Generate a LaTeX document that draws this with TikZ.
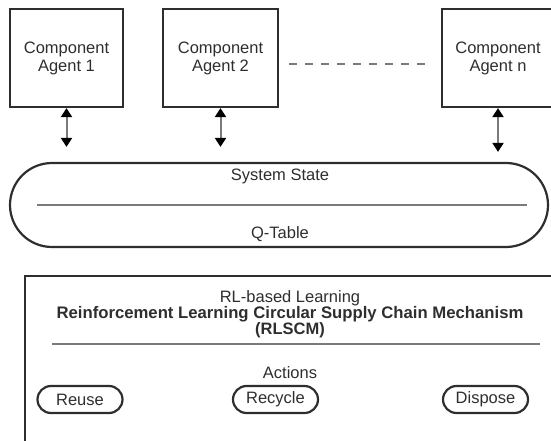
\documentclass[tikz,border=0pt]{standalone}
\usepackage{fontspec}
\setmainfont{Liberation Sans}
\usetikzlibrary{shapes,arrows.meta}

\definecolor{ink}{HTML}{2E2E2E}
\definecolor{rule}{HTML}{7A7A7A}

\begin{document}
\begin{tikzpicture}[x=1pt, y=-1pt, font=\fontsize{16.5}{18}\selectfont, text=ink]
\tikzstyle{agentbox}=[rectangle, draw=ink, line width=2.2pt, minimum height=98pt, inner sep=0pt, align=center]
\tikzstyle{action}=[rectangle, draw=ink, line width=2.2pt, rounded corners=13.5pt, minimum width=85pt, minimum height=27pt, inner sep=0pt]
\tikzstyle{link}=[draw=rule, line width=2pt, >={Triangle[color=black, width=11pt, length=9pt]}, <->]
\tikzstyle{dashline}=[draw=rule, line width=1.6pt, dash pattern=on 8pt off 8pt]
\tikzstyle{divider}=[draw=rule, line width=1.6pt]

\clip (0,0) rectangle (551,441);

% agents
\node[agentbox, minimum width=113pt] (agent1) at (66.5,58) {Component\\Agent 1};
\node[agentbox, minimum width=115pt] (agent2) at (220.5,58) {Component\\Agent 2};
\node[agentbox, minimum width=112pt] (agentn) at (498,58) {Component\\Agent n};
\draw[dashline, shorten <=10pt, shorten >=14pt] ([yshift=-6pt]agent2.east) -- ([yshift=-6pt]agentn.west);

% shared state
\node[draw=ink, line width=2.2pt, rounded corners=42pt, minimum width=538pt, minimum height=84pt] (state) at (279,205) {};
\node (sysstate) at (280,176) {System State};
\node (qtable) at (280,234) {Q-Table};
\draw[divider] ([xshift=28pt]state.west) -- ([xshift=-22pt]state.east);

\draw[link, shorten >=15pt] (agent1.south) -- (agent1.south |- state.north);
\draw[link, shorten >=15pt] (agent2.south) -- (agent2.south |- state.north);
\draw[link, shorten >=10pt] (agentn.south) -- (agentn.south |- state.north);

% learning block
\node[draw=ink, line width=2.2pt, minimum width=546pt, minimum height=165.5pt, anchor=north west] (rlbox) at (24,275) {};
\node[align=center, font=\fontsize{16.5}{16}\selectfont] (rltitle) at (290,314)
  {RL-based Learning\\{\fontsize{16.7}{16}\selectfont\bfseries Reinforcement Learning Circular Supply Chain Mechanism}\\\textbf{(RLSCM)}};
\draw[divider] (52,344) -- (540,344);
\node (actions) at (290,373) {Actions};
\node[action] (reuse) at (80,399.5) {Reuse};
\node[action] (recycle) at (275.5,399.5) {Recycle};
\node[action] (dispose) at (485.5,399.5) {Dispose};
\end{tikzpicture}
\end{document}
